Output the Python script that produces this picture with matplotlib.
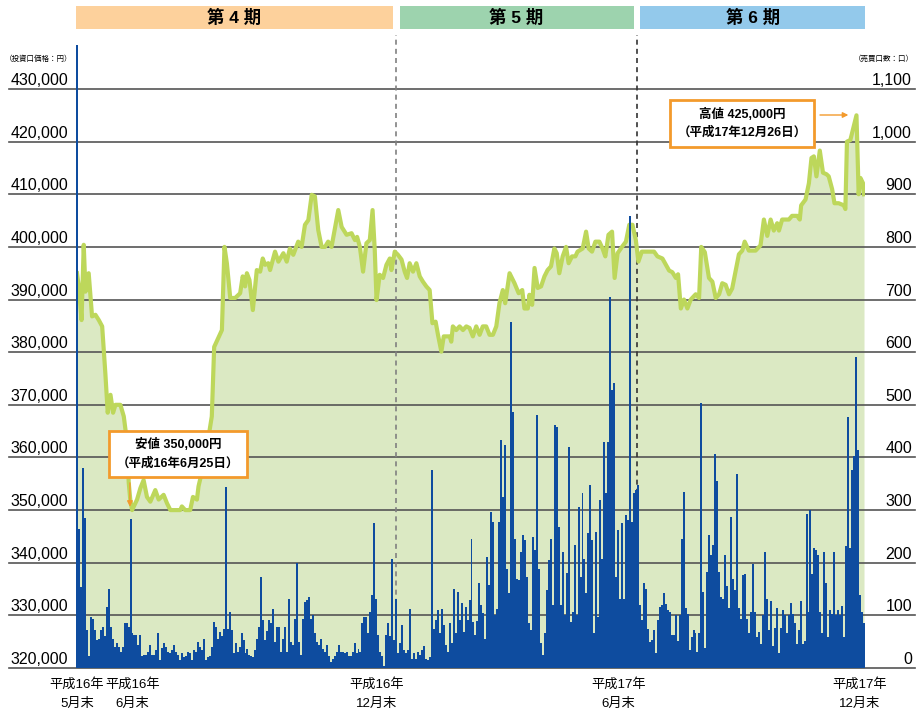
import matplotlib
matplotlib.use("Agg")
import matplotlib.pyplot as plt
import matplotlib.transforms as mtransforms
from matplotlib.patches import Rectangle

plt.rcParams['font.family'] = ['Liberation Sans', 'Noto Sans CJK JP']

# 投資口価格 (営業日インデックス, 円)
price_day = [0, 0.9, 2.3, 3.4, 4.3, 5.9, 7.6, 9.3, 11.0, 12.7, 14.3, 15.5, 16.9, 18.2, 19.4,
             21.9, 23.6, 25.3, 26.1, 26.9, 27.8, 30.3, 32.0, 33.6, 35.3, 37.0, 39.5, 41.2, 43.7,
             45.4, 47.1, 52.1, 52.9, 54.6, 57.1, 58.5, 60.5, 61.3, 64.7, 68.0, 69.2, 73.1, 74.4,
             75.6, 77.3, 79.8, 82.3, 83.6, 84.8, 85.7, 87.0, 88.7, 90.7, 92.4, 93.7, 94.9, 96.5,
             97.4, 99.9, 101.6, 104.1, 105.8, 107.4, 109.1, 111.6, 113.3, 115.0, 116.7, 118.4,
             120.0, 121.7, 123.4, 125.1, 126.7, 128.4, 130.1, 131.8, 133.5, 136.0, 138.5, 140.2,
             141.3, 142.7, 144.3, 146.0, 147.7, 149.1, 150.2, 151.1, 152.7, 154.4, 156.1, 157.8,
             158.6, 160.3, 161.9, 163.7, 165.3, 166.5, 167.8, 169.5, 171.2, 172.9, 174.5, 176.2,
             177.9, 179.3, 180.9, 182.1, 183.8, 185.0, 188.0, 188.8, 189.6, 191.3, 193.0, 194.7,
             196.4, 198.0, 199.7, 201.4, 203.1, 204.7, 206.4, 208.1, 209.8, 211.5, 213.1, 214.8,
             216.0, 218.2, 220.7, 222.8, 224.6, 225.7, 227.4, 228.2, 229.6, 230.8, 232.4, 234.1,
             235.8, 237.4, 239.1, 240.8, 242.0, 243.3, 245.0, 246.7, 248.0, 249.7, 251.4, 252.5,
             255.1, 256.8, 258.1, 259.8, 261.5, 263.5, 265.1, 266.5, 268.1, 269.9, 271.2, 272.7,
             274.9, 276.9, 278.6, 280.2, 281.9, 283.2, 284.9, 287.8, 291.1, 292.8, 295.3, 298.7,
             300.3, 302.1, 303.2, 304.6, 306.2, 307.9, 309.6, 312.1, 313.8, 314.9, 316.7, 318.8,
             320.5, 322.2, 323.9, 325.5, 327.2, 328.9, 330.5, 332.3, 333.9, 335.6, 336.8, 338.9,
             342.3, 344.8, 346.5, 348.2, 349.9, 351.5, 353.2, 354.1, 355.7, 359.1, 360.7, 363.3,
             364.6, 365.3, 367.5, 369.2, 370.5, 371.7, 373.0, 374.7, 376.3, 378.1, 379.2, 380.9,
             382.1, 384.2, 386.8, 387.6, 388.4, 390.1, 393.2, 394.3, 395.2, 396.5, 397.0]
price_val = [395000, 392500, 386100, 400400, 391500, 395000, 386800, 387100, 386100, 384900,
             376000, 368500, 371900, 368500, 370000, 370000, 367800, 362800, 355200, 351900,
             350000, 352000, 354200, 355700, 352500, 351600, 353800, 352000, 352900, 351300,
             350000, 350000, 350700, 350000, 350000, 352500, 352000, 354500, 360000, 367800,
             381000, 384200, 400000, 396900, 390300, 390300, 391200, 394400, 392500, 395000,
             393700, 388000, 395600, 395300, 397800, 396600, 396900, 395600, 399100, 397200,
             398800, 397200, 399700, 398500, 401000, 400000, 404200, 405100, 409900, 409600,
             403200, 400000, 400000, 401000, 400000, 403500, 407000, 403800, 402300, 402600,
             401300, 401900, 400000, 395300, 400700, 401300, 407000, 399400, 389900, 394700,
             394100, 396600, 397800, 395600, 399100, 398500, 397600, 395300, 394100, 396900,
             395300, 396900, 394400, 393400, 392500, 391800, 385500, 385800, 383300, 380100,
             383000, 383000, 382000, 384900, 384200, 384900, 384200, 384900, 384600, 383000,
             384900, 383300, 384900, 384900, 383300, 383300, 384900, 389300, 391800, 389300,
             395000, 393100, 391200, 391800, 388300, 388300, 390900, 389000, 396000, 392200,
             392500, 394400, 395600, 396300, 399700, 398800, 395000, 398200, 400000, 396900,
             398200, 398200, 399100, 399700, 402900, 399700, 399100, 401000, 401000, 399700,
             398200, 402300, 402900, 394100, 398800, 400000, 401000, 404200, 404200, 401300,
             397200, 399100, 399100, 399100, 398200, 397800, 395500, 395200, 394100, 394800,
             388300, 390000, 388300, 390000, 391000, 390300, 400000, 399000, 394100, 393400,
             390300, 391000, 393100, 392800, 391000, 392100, 395500, 398600, 399300, 401000,
             399300, 399300, 400300, 405200, 402100, 405200, 403100, 404500, 403100, 405200,
             405200, 405900, 405900, 405200, 407900, 409000, 412100, 416900, 417200, 413400,
             418300, 414100, 413800, 413400, 411000, 408300, 408300, 407900, 407200, 420000,
             420300, 425000, 410000, 413100, 412100, 410000]

# 売買口数 (口) 1営業日ごと
volume = [
    1183, 265, 154, 380, 285, 72, 22, 97, 94, 72, 53, 55, 72, 78, 60, 116, 151, 78, 55, 40,
    47, 40, 31, 40, 85, 85, 78, 284, 66, 63, 63, 44, 63, 22, 25, 25, 30, 44, 25, 25,
    35, 66, 15, 38, 47, 40, 30, 28, 35, 44, 31, 25, 15, 28, 20, 22, 30, 28, 15, 34,
    30, 50, 40, 35, 56, 15, 20, 22, 40, 88, 78, 56, 69, 60, 75, 344, 75, 107, 72, 28,
    47, 31, 40, 66, 53, 28, 37, 25, 22, 20, 35, 56, 78, 173, 91, 53, 70, 91, 85,
    113, 50, 78, 78, 31, 56, 78, 31, 132, 50, 44, 94, 199, 50, 25, 94, 126, 129, 135, 94,
    101, 66, 50, 44, 56, 37, 31, 44, 22, 12, 18, 22, 31, 44, 31, 31, 28, 31, 22, 22, 30,
    47, 28, 37, 31, 85, 97, 97, 66, 107, 139, 275, 132, 63, 31, 22, 3, 63, 85, 60, 208,
    53, 132, 28, 47, 82, 34, 28, 34, 113, 18, 28, 18, 31, 25, 35, 41, 18, 15, 20, 376,
    75, 91, 110, 66, 113, 82, 44, 31, 85, 47, 151, 66, 145, 91, 123, 69, 116, 91,
    129, 246, 88, 63, 90, 161, 120, 104, 56, 211, 158,
    297, 278, 101, 113, 278, 433, 325, 423, 189, 142, 658, 487, 246, 170, 167, 221, 253, 243, 173, 85,
    72, 249, 224, 480, 189, 47, 25, 66, 148, 205, 246, 120, 461, 458, 268, 120, 221, 101, 180, 420,
    88, 107, 234, 101, 306, 173, 332, 208, 142, 256, 347, 243, 66, 259, 97, 319, 208, 430, 332, 430,
    705, 528, 541, 173, 262, 132, 275, 132, 291, 281, 858, 278, 332, 338, 347, 120, 91, 161, 151, 75,
    50, 53, 72, 28, 91, 116, 120, 142,
    121, 110, 107, 62, 62, 100, 52, 100, 245, 334, 114, 103, 34, 59, 72, 66, 31, 66, 503, 145,
    38, 183, 252, 214, 234, 407, 355, 183, 134, 131, 214, 155, 114, 286, 169, 148, 369, 114, 93, 176,
    179, 93, 66, 107, 197, 107, 59, 69, 45, 100, 221, 131, 72, 128, 41, 76, 114, 28, 76, 110,
    100, 66, 100, 124, 103, 86, 45, 72, 128, 45, 52, 293, 107, 300, 179, 228, 224, 214,
    107, 66, 221, 162, 59, 110, 103, 221, 100, 110, 100, 117, 59, 231, 476, 228, 376, 403, 590, 414,
    138, 107, 86]

price_ticks = [320000, 330000, 340000, 350000, 360000, 370000, 380000, 390000, 400000, 410000, 420000, 430000]
volume_ticks = [0, 100, 200, 300, 400, 500, 600, 700, 800, 900, 1000, 1100]
date_pos = [0, 28, 151, 273, 395]
date_labels = ["平成16年\n5月末", "平成16年\n6月末", "平成16年\n12月末", "平成17年\n6月末", "平成17年\n12月末"]
period_names = ["第 4 期", "第 5 期", "第 6 期"]
period_edges = [-0.5, 161, 282.5, 397.5]
period_colors = ["#fdd19c", "#9dd3ae", "#93c9eb"]

W, H = 921, 718
fig = plt.figure(figsize=(W / 100, H / 100), dpi=100)
ax = fig.add_axes([76 / W, 50 / H, 789 / W, 579 / H])
ax.set_xlim(-0.5, 397.5)
ax.set_ylim(320000, 430000)
ax.axis('off')
ax2 = ax.twinx()
ax2.set_ylim(0, 1100)
ax2.axis('off')

ytrans = ax.get_yaxis_transform()
xtrans = ax.get_xaxis_transform()

ax.fill_between(price_day, 320000, price_val, color='#dbe9c3', lw=0, zorder=1)
for v in price_ticks:
    ax.plot([-0.085, 1.0634], [v, v], transform=ytrans, color='#555555', lw=1.2,
            clip_on=False, zorder=2)
ax.plot(price_day, price_val, color='#bdd75b', lw=3.0, solid_joinstyle='round', zorder=3)

# 期の区切り
for b, c in zip(period_edges[1:3], ['#808080', '#333333']):
    ax.plot([b, b], [0, 1.093], transform=xtrans, color=c, lw=1.2, ls=(0, (3, 2.5)),
            clip_on=False, zorder=2)

ax2.bar(range(len(volume)), volume, width=1.0, color='#0e4c9f', lw=0, clip_on=False,
        antialiased=False, zorder=2)

lab_l = mtransforms.offset_copy(ytrans, fig=fig, y=4, units='dots')
for v in price_ticks:
    ax.text(-8 / 789, v, f"{v:,}", transform=lab_l, ha='right', va='baseline', fontsize=11.5)
lab_r = mtransforms.offset_copy(ax2.get_yaxis_transform(), fig=fig, y=4, units='dots')
for v in volume_ticks:
    ax2.text(836 / 789, v, f"{v:,}", transform=lab_r, ha='right', va='baseline', fontsize=11.5)

fig.text(5 / W, 1 - 59 / H, "（投資口価格：円）", ha='left', va='center', fontsize=5.4)
fig.text(914 / W, 1 - 59 / H, "（売買口数：口）", ha='right', va='center', fontsize=5.4)

for d, lab in zip(date_pos, date_labels):
    ax.text(d, -10 / 579, lab, transform=xtrans, ha='center', va='top', fontsize=9.5,
            linespacing=1.75)

# 期の見出し
hdr = mtransforms.blended_transform_factory(ax.transData, fig.transFigure)
for i, (name, col) in enumerate(zip(period_names, period_colors)):
    x0 = period_edges[i] + (1.75 if i > 0 else 0)
    x1 = period_edges[i + 1] - (1.75 if i < 2 else 0)
    ax.add_patch(Rectangle((x0, 1 - 29 / H), x1 - x0, 23 / H, transform=hdr,
                           facecolor=col, edgecolor='none', clip_on=False))
    ax.text((x0 + x1) / 2, 1 - 17.5 / H, name, transform=hdr, ha='center', va='center',
            fontsize=12.5, fontweight='bold')

box = dict(boxstyle='square,pad=0.6', fc='white', ec='#f39a2c', lw=2)
ax.text(51, 360670, "安値 350,000円\n（平成16年6月25日）", ha='center', va='center',
        fontsize=9, fontweight='bold', linespacing=1.6, bbox=box, zorder=6)
ax.annotate('', xy=(26.7, 350100), xytext=(26.7, 355700),
            arrowprops=dict(arrowstyle='-|>', color='#f39a2c', lw=1, mutation_scale=8), zorder=6)
ax.text(335.5, 423450, "高値 425,000円\n（平成17年12月26日）", ha='center', va='center',
        fontsize=9, fontweight='bold', linespacing=1.6, bbox=box, zorder=6)
ax.annotate('', xy=(390.5, 425060), xytext=(373.4, 425060),
            arrowprops=dict(arrowstyle='-|>', color='#f39a2c', lw=1, mutation_scale=8), zorder=6)

fig.savefig('out.png', dpi=100)
